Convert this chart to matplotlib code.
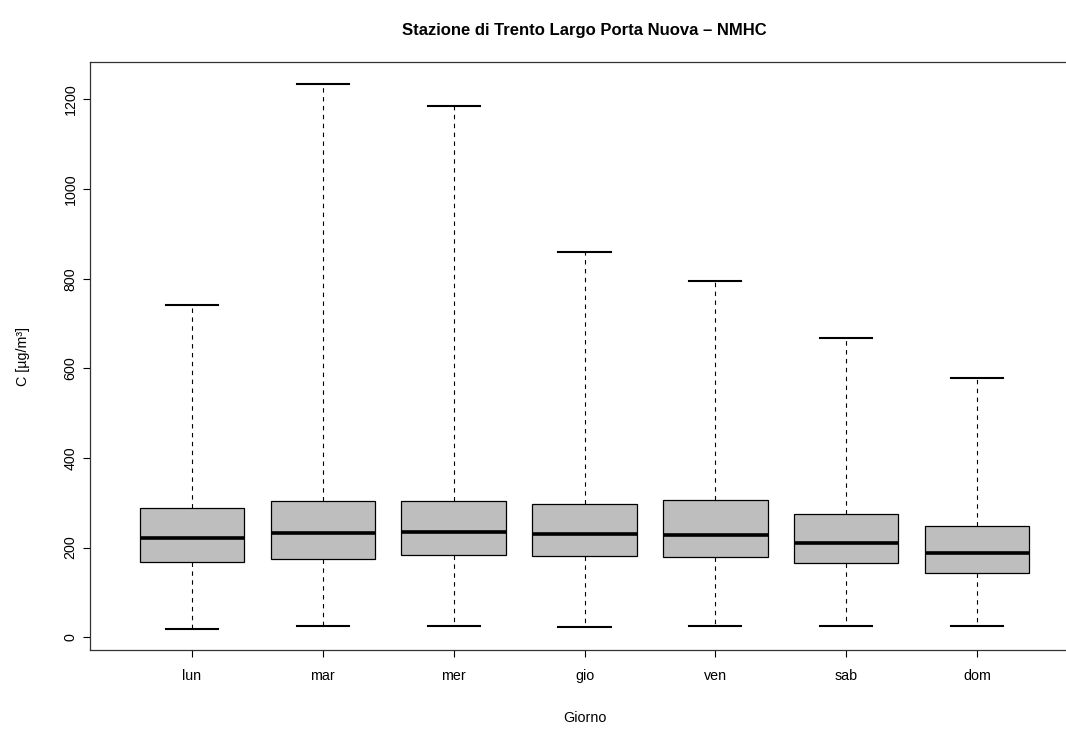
import numpy as np
import matplotlib
matplotlib.use('Agg')
import matplotlib.pyplot as plt

plt.rcParams['font.family'] = ['Liberation Sans', 'DejaVu Sans']

# giorni della settimana
giorni = ['lun', 'mar', 'mer', 'gio', 'ven', 'sab', 'dom']

# statistiche dei box
whisk_low = [19, 25, 26, 22, 26, 24, 24]
q1 = [167, 174, 184, 181, 179, 165, 143]
mediana = [222, 233, 235, 231, 229, 211, 188]
q3 = [289, 304, 303, 298, 306, 276, 248]
whisk_high = [742, 1234, 1186, 860, 795, 667, 578]

yticks = [0, 200, 400, 600, 800, 1000, 1200]

stats = []
for i in range(len(giorni)):
    stats.append({'label': giorni[i], 'whislo': whisk_low[i], 'q1': q1[i],
                  'med': mediana[i], 'q3': q3[i], 'whishi': whisk_high[i],
                  'fliers': []})

fig = plt.figure(figsize=(10.66, 7.29), dpi=100)
ax = fig.add_axes([90/1066, 1 - 650/729, 989/1066, 588/729])

ax.bxp(stats, positions=range(1, 8), widths=0.8, capwidths=0.4,
       showfliers=False, patch_artist=True,
       boxprops=dict(facecolor='#bebebe', edgecolor='black', linewidth=0.9),
       medianprops=dict(color='black', linewidth=2.6, solid_capstyle='butt'),
       whiskerprops=dict(color='black', linewidth=0.8, linestyle=(0, (4, 4))),
       capprops=dict(color='black', linewidth=1.5))

ax.set_xlim(0.22, 7.78)
ax.set_ylim(-28.6, 1283.6)
ax.set_yticks(yticks)
ax.set_yticklabels([str(v) for v in yticks])
ax.set_xticks(range(1, 8))
ax.set_xticklabels(giorni)

ax.tick_params(axis='both', direction='out', length=5, width=0.8, labelsize=10.3)
ax.tick_params(axis='x', pad=9)
ax.tick_params(axis='y', pad=4, labelrotation=90)
for lab in ax.get_yticklabels():
    lab.set_va('center')

for sp in ax.spines.values():
    sp.set_linewidth(0.9)
    sp.set_color('#333333')

ax.set_title('Stazione di Trento Largo Porta Nuova \u2013 NMHC', fontsize=12,
             fontweight='bold', y=(650 - 31) / 588, va='center', pad=0)
ax.set_xlabel('Giorno', fontsize=10.3, va='center')
ax.xaxis.set_label_coords(0.5, (650 - 718) / 588)
ax.set_ylabel('C [\u00b5g/m\u00b3]', fontsize=10.3, va='center')
ax.yaxis.set_label_coords((23 - 90) / 989, 0.5)

fig.savefig('out.png', dpi=100)
